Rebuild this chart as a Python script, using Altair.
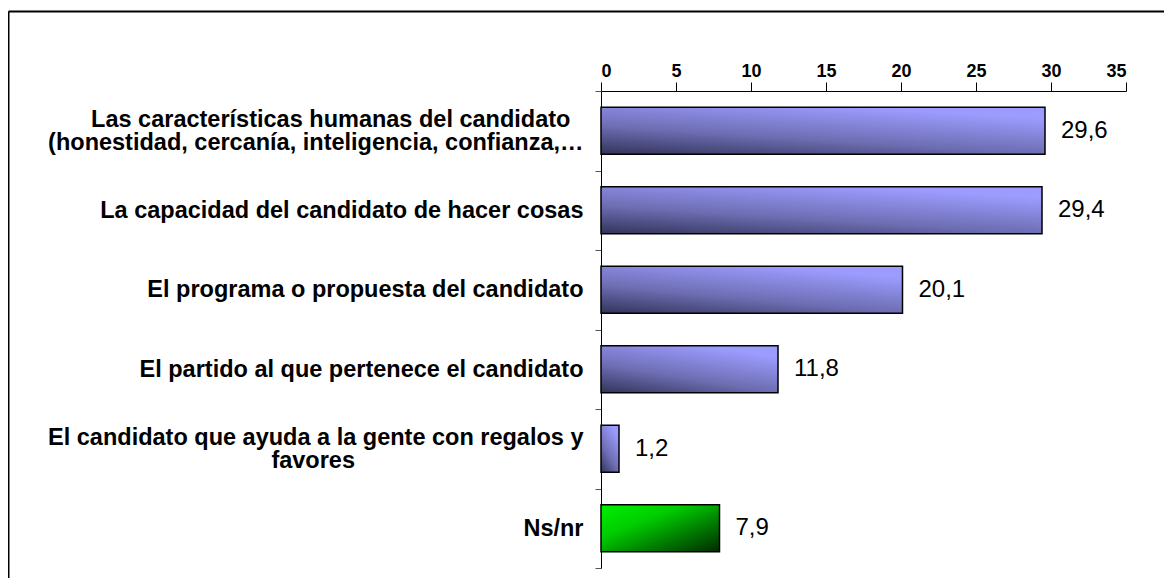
import altair as alt
import pandas as pd

NB = "\u00a0"
WJ = "\u2060"

# ---- data ----
label_lines = [
    ["Las características humanas del candidato" + NB * 2 + WJ, "(honestidad, cercanía, inteligencia, confianza,…"],
    ["La capacidad del candidato de hacer cosas"],
    ["El programa o propuesta del candidato"],
    ["El partido al que pertenece el candidato"],
    ["El candidato que ayuda a la gente con regalos y", "favores" + NB * 35 + WJ],
    ["Ns/nr"],
]
values = [29.6, 29.4, 20.1, 11.8, 1.2, 7.9]
groups = ["motivo", "motivo", "motivo", "motivo", "motivo", "nsnr"]
x_ticks = [0, 5, 10, 15, 20, 25, 30, 35]

categories = ["|".join(l) for l in label_lines]
df = pd.DataFrame({"cat": categories, "valor": values, "grupo": groups})

W, H = 525, 477

purple = alt.Gradient(
    gradient="linear", x1=0, y1=1, x2=0.6, y2=0,
    stops=[alt.GradientStop(color="#33335a", offset=0),
           alt.GradientStop(color="#6e6eb4", offset=0.45),
           alt.GradientStop(color="#9c9cff", offset=1)],
)
green = alt.Gradient(
    gradient="linear", x1=0, y1=0, x2=1, y2=1,
    stops=[alt.GradientStop(color="#00f000", offset=0),
           alt.GradientStop(color="#00cc00", offset=0.35),
           alt.GradientStop(color="#002a00", offset=1)],
)

y_enc = alt.Y(
    "cat:N", sort=categories, title=None,
    scale=alt.Scale(paddingInner=0, paddingOuter=0),
    axis=alt.Axis(
        tickBand="extent",
        labelExpr="isValid(datum.value) ? split(datum.value, '|') : ''",
        labelOffset={"condition": {"test": "isValid(datum.value) && indexof(datum.value, '|') >= 0",
                                   "value": -11.5}, "value": 0},
        labelFont="Liberation Sans", labelFontWeight="bold", labelFontSize=23.5,
        labelLineHeight=23, labelColor="black", labelPadding=12, labelLimit=620,
        tickSize=6, tickColor="#555555", domainColor="black", labelAlign="right",
        labelOverlap=False,
    ),
)
x_enc = alt.X(
    "valor:Q", title=None,
    scale=alt.Scale(domain=[0, 35], nice=False, zero=True),
    axis=alt.Axis(
        orient="top", values=x_ticks, grid=False,
        labelFont="Liberation Sans", labelFontWeight="bold", labelFontSize=18,
        labelColor="black", labelPadding=2, tickSize=9, tickColor="black",
        domainColor="black",
    ),
)

base = alt.Chart(df).encode(y=y_enc, x=x_enc)

bars_p = base.transform_filter(alt.datum.grupo == "motivo").mark_bar(
    size=47, fill=purple, stroke="black", strokeWidth=1.5)
bars_g = base.transform_filter(alt.datum.grupo == "nsnr").mark_bar(
    size=47, fill=green, stroke="black", strokeWidth=1.5)
labels = base.transform_calculate(
    txt="replace(format(datum.valor, '.1f'), '.', ',')"
).mark_text(align="left", baseline="middle", dx=16, fontSize=24,
            font="Liberation Sans", color="black").encode(text="txt:N")

frame_df = pd.DataFrame({"k": [0]})
frame_top = alt.Chart(frame_df).mark_rule(color="black", strokeWidth=2, clip=False).encode(
    x=alt.value(-592.5), x2=alt.value(W + 60), y=alt.value(-79.5))
frame_left = alt.Chart(frame_df).mark_rule(color="black", strokeWidth=2, clip=False).encode(
    x=alt.value(-592.5), y=alt.value(-79.5), y2=alt.value(H + 40))

chart = alt.layer(bars_p, bars_g, labels, frame_top, frame_left).properties(
    width=W, height=H,
    autosize=alt.AutoSizeParams(type="none"),
    padding={"left": 593, "top": 83, "right": 38, "bottom": 10},
    background="white",
).configure_view(stroke=None)

chart.save("out.html", embed_options={"renderer": "svg", "actions": False})
